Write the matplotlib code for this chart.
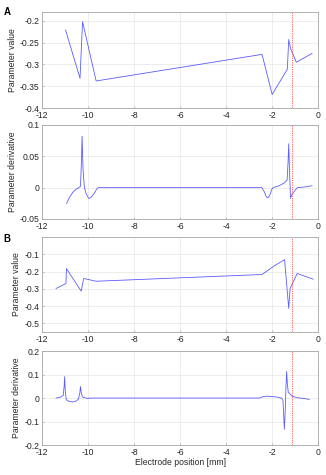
import numpy as np
import matplotlib
matplotlib.use('Agg')
import matplotlib.pyplot as plt

plt.rcParams['font.family'] = ['Liberation Sans', 'DejaVu Sans']
plt.rcParams['font.size'] = 6.2

#%%
# Data
# A - parameter value
xA_val = [-10.98, -10.35, -10.24, -9.65, -2.44, -2.0, -1.34, -1.28, -1.2, -0.95, -0.27]
yA_val = [-0.221, -0.332, -0.202, -0.338, -0.277, -0.369, -0.311, -0.243, -0.263, -0.295, -0.275]
# A - parameter derivative
xA_der = [-10.93, -10.8, -10.65, -10.5, -10.4, -10.33, -10.29, -10.26, -10.22, -10.16, -10.08,
          -9.98, -9.88, -9.75, -9.62, -9.55, -2.45, -2.35, -2.25, -2.18, -2.1, -2.02, -1.96,
          -1.7, -1.45, -1.35, -1.31, -1.28, -1.24, -1.2, -1.16, -1.08, -1.0, -0.9, -0.6, -0.27]
yA_der = [-0.025, -0.015, -0.007, -0.002, 0.0, 0.002, 0.04, 0.082, 0.03, 0.0, -0.01,
          -0.017, -0.016, -0.01, -0.002, 0.0, 0.0, -0.006, -0.015, -0.016, -0.012, -0.003, 0.0,
          0.003, 0.008, 0.012, 0.04, 0.07, 0.02, -0.017, -0.012, -0.008, -0.004, 0.0, 0.001, 0.003]
# B - parameter value
xB_val = [-11.39, -10.96, -10.94, -10.30, -10.19, -9.65, -2.44, -1.91, -1.46, -1.28, -1.22, -0.91, -0.22]
yB_val = [-0.298, -0.269, -0.183, -0.313, -0.240, -0.256, -0.217, -0.167, -0.131, -0.413, -0.298, -0.211, -0.244]
# B - parameter derivative
xB_der = [-11.39, -11.2, -11.08, -11.04, -11.02, -10.99, -10.95, -10.85, -10.67, -10.5, -10.42,
          -10.36, -10.33, -10.29, -10.24, -10.05, -9.8, -2.55, -2.4, -2.25, -1.95, -1.76, -1.6,
          -1.53, -1.5, -1.47, -1.43, -1.4, -1.37, -1.34, -1.3, -1.2, -1.11, -0.89, -0.6, -0.39]
yB_der = [0.0, 0.004, 0.011, 0.05, 0.091, 0.03, -0.007, -0.013, -0.017, -0.012, -0.004,
          0.02, 0.049, 0.02, 0.004, -0.001, 0.0, 0.0, 0.006, 0.008, 0.006, 0.004, 0.0,
          -0.01, -0.07, -0.133, -0.05, 0.05, 0.113, 0.06, 0.025, 0.015, 0.007, 0.001, -0.002, -0.006]

red_line_A = -1.12
red_line_B = -1.15

xticks = np.arange(-12, 1, 2)
labels = ['Parameter value', 'Parameter derivative', 'Parameter value', 'Parameter derivative']

#%%
fig = plt.figure(figsize=(3.26, 4.75), dpi=100)

left, width = 0.129, 0.847
positions = [(left, 0.7726, width, 0.202),
             (left, 0.539, width, 0.198),
             (left, 0.301, width, 0.200),
             (left, 0.063, width, 0.198)]
series = [(xA_val, yA_val, red_line_A), (xA_der, yA_der, red_line_A),
          (xB_val, yB_val, red_line_B), (xB_der, yB_der, red_line_B)]
ylims = [(-0.4, -0.18), (-0.05, 0.1), (-0.55, 0.0), (-0.2, 0.2)]
yticks = [np.arange(-0.4, -0.19, 0.05), np.arange(-0.05, 0.11, 0.05),
          np.arange(-0.5, -0.09, 0.1), np.arange(-0.2, 0.21, 0.1)]
ylabfmt = ['{:g}', '{:g}', '{:.1f}', '{:.1f}']

axes = []
for k in range(4):
    ax = fig.add_axes(positions[k])
    x, y, xr = series[k]
    ax.plot(x, y, color='#3333ff', lw=0.6, alpha=0.8)
    ax.axvline(xr, color='#ff5555', ls=(0, (1.5, 1.2)), lw=0.6)
    ax.set_xlim(-12, 0)
    ax.set_ylim(*ylims[k])
    ax.set_xticks(xticks)
    ax.set_xticklabels([f'{t:d}' for t in xticks])
    ax.set_yticks(yticks[k])
    lab = [ylabfmt[k].format(round(t, 2)) for t in yticks[k]]
    ax.set_yticklabels(['0' if l in ('0.0', '-0.0', '-0') else l for l in lab])
    ax.grid(True, color='#e6e6e6', lw=0.5)
    ax.set_axisbelow(True)
    for s in ax.spines.values():
        s.set_color('#a6a6a6')
        s.set_linewidth(0.6)
    ax.tick_params(direction='in', length=1.5, width=0.5, colors='#a6a6a6',
                   labelcolor='#262626', pad=2)
    ax.set_ylabel(labels[k], color='#262626', labelpad=2)
    axes.append(ax)

axes[3].set_xlabel('Electrode position [mm]', color='#262626', labelpad=1)

fig.text(0.01, 0.985, 'A', fontsize=7, fontweight='bold', va='top')
fig.text(0.01, 0.507, 'B', fontsize=7, fontweight='bold', va='top')

fig.savefig('out.png', dpi=100)
